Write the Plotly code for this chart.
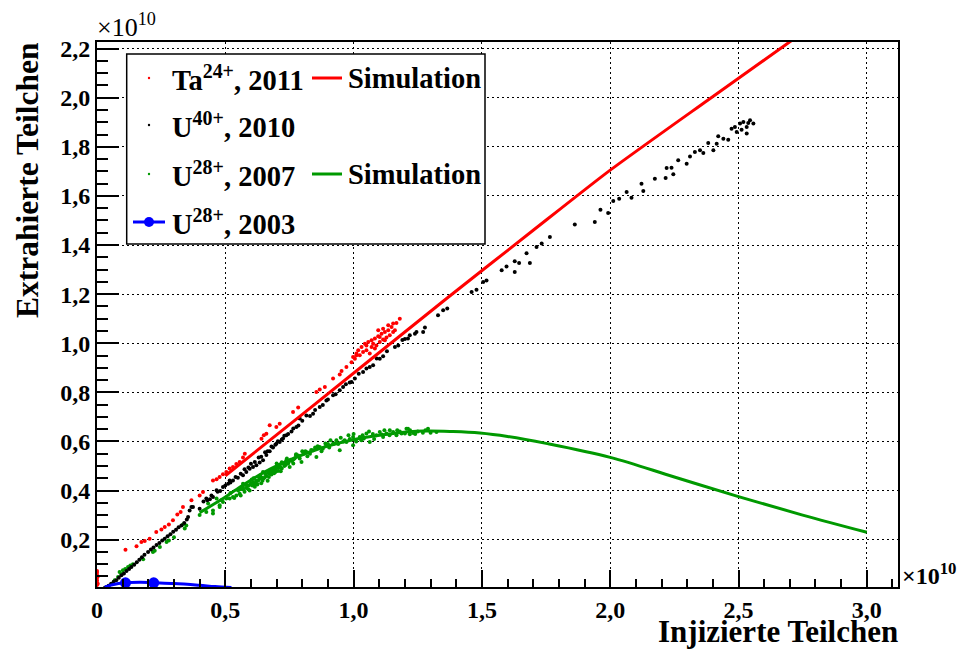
import plotly.graph_objects as go

# ---------------- data (units of 1e10 particles) ----------------
ta2011_x = [0.0, 0.0, 0.0, 0.0, 0.0, 0.0, 0.0, 0.003, 0.003,
            0.111, 0.154, 0.173, 0.186, 0.205, 0.231, 0.251, 0.264, 0.280, 0.296,
            0.313, 0.326, 0.335, 0.368, 0.400, 0.413, 0.452, 0.466, 0.478, 0.491,
            0.504, 0.517, 0.530, 0.543, 0.556, 0.569, 0.576, 0.641, 0.650, 0.660,
            0.673, 0.699, 0.712, 0.764, 0.784, 0.855, 0.868, 0.888, 0.920, 0.946,
            0.953, 0.972, 0.992, 0.998, 1.011,
            1.011, 1.024, 1.018, 1.031, 1.044, 1.050, 1.057, 1.063, 1.070, 1.070,
            1.083, 1.083, 1.089, 1.096, 1.102, 1.109, 1.115, 1.122, 1.128, 1.135,
            1.141, 1.148, 1.161, 1.167, 1.180, 1.037, 1.050, 1.076, 1.102, 1.122,
            1.154, 1.005, 1.096, 1.115, 1.135, 1.154]
ta2011_y = [0.015, 0.025, 0.035, 0.045, 0.055, 0.065, 0.072, 0.020, 0.050,
            0.159, 0.173, 0.190, 0.194, 0.204, 0.231, 0.241, 0.251, 0.262, 0.279,
            0.302, 0.312, 0.333, 0.360, 0.380, 0.394, 0.441, 0.446, 0.455, 0.466,
            0.475, 0.490, 0.496, 0.508, 0.516, 0.535, 0.550, 0.611, 0.625, 0.631,
            0.666, 0.659, 0.672, 0.720, 0.738, 0.801, 0.811, 0.822, 0.856, 0.873,
            0.887, 0.903, 0.923, 0.944, 0.951,
            0.958, 0.951, 0.971, 0.985, 0.998, 0.971, 1.005, 0.958, 1.012, 0.985,
            1.019, 0.978, 0.991, 1.028, 1.005, 1.039, 1.015, 1.046, 1.023, 1.053,
            1.032, 1.066, 1.053, 1.082, 1.100, 0.964, 0.991, 0.998, 1.025, 1.012,
            1.046, 0.937, 1.053, 1.059, 1.073, 1.080]

u40_2010_x = [0.030, 0.037, 0.045, 0.055, 0.065, 0.075, 0.085, 0.095, 0.105, 0.115,
              0.125, 0.134, 0.145, 0.155, 0.165, 0.175, 0.185, 0.199, 0.210, 0.220,
              0.232, 0.243, 0.254, 0.264, 0.275, 0.286, 0.297, 0.308, 0.318, 0.329,
              0.340, 0.350, 0.355, 0.361, 0.368, 0.374, 0.400, 0.415, 0.426, 0.446,
              0.452, 0.466, 0.491, 0.511, 0.517, 0.530, 0.549, 0.569, 0.582, 0.595,
              0.608, 0.621, 0.634, 0.647, 0.660, 0.673, 0.686, 0.699, 0.712, 0.725,
              0.738, 0.758, 0.777, 0.790, 0.816, 0.842, 0.868, 0.894, 0.920, 0.946,
              0.959, 0.992, 1.005, 1.037, 1.063, 1.076, 1.102, 1.115, 1.161, 1.174,
              1.212, 1.219, 1.239, 1.245, 1.271, 1.278, 1.329, 1.349, 1.365, 1.460,
              1.479, 1.505, 1.518, 1.577, 1.596, 1.628, 1.628, 1.645, 1.674, 1.687,
              1.713, 1.733, 1.765, 1.862, 1.940, 1.962, 1.992, 2.012, 2.035, 2.064,
              2.083, 2.122, 2.129, 2.174, 2.216, 2.220, 2.239, 2.246, 2.265, 2.298,
              2.311, 2.330, 2.350, 2.363, 2.382, 2.402, 2.415, 2.421, 2.441, 2.460,
              2.473, 2.486, 2.493, 2.506, 2.512, 2.519, 2.532, 2.538, 2.532, 2.558,
              2.545,
              0.430, 0.440, 0.470, 0.480, 0.500, 0.520, 0.540, 0.560, 0.575, 0.590,
              0.600, 0.615, 0.630, 0.640, 0.655, 0.665, 0.680, 0.695, 0.705, 0.720,
              0.730, 0.745, 0.765, 0.785, 0.800, 0.830, 0.850, 0.880, 0.900, 0.930,
              0.970, 0.985, 1.020, 1.050, 1.090, 1.130, 1.190, 1.200]
u40_2010_y = [0.003, 0.007, 0.012, 0.020, 0.028, 0.035, 0.045, 0.055, 0.062, 0.072,
              0.080, 0.088, 0.098, 0.108, 0.118, 0.128, 0.138, 0.150, 0.160, 0.168,
              0.178, 0.186, 0.196, 0.204, 0.214, 0.222, 0.232, 0.240, 0.250, 0.258,
              0.268, 0.282, 0.292, 0.319, 0.333, 0.333, 0.326, 0.355, 0.367, 0.380,
              0.374, 0.401, 0.414, 0.428, 0.441, 0.441, 0.452, 0.462, 0.475, 0.489,
              0.496, 0.503, 0.514, 0.523, 0.545, 0.560, 0.575, 0.591, 0.598, 0.612,
              0.625, 0.640, 0.659, 0.693, 0.706, 0.713, 0.740, 0.767, 0.788, 0.808,
              0.822, 0.842, 0.856, 0.883, 0.903, 0.910, 0.937, 0.947, 0.985, 0.991,
              1.019, 1.032, 1.039, 1.046, 1.046, 1.064, 1.114, 1.134, 1.141, 1.209,
              1.218, 1.249, 1.256, 1.297, 1.313, 1.290, 1.334, 1.327, 1.367, 1.327,
              1.392, 1.406, 1.433, 1.484, 1.494, 1.544, 1.530, 1.579, 1.589, 1.616,
              1.593, 1.650, 1.620, 1.670, 1.673, 1.714, 1.715, 1.688, 1.745, 1.731,
              1.761, 1.779, 1.786, 1.775, 1.816, 1.786, 1.813, 1.843, 1.833, 1.829,
              1.874, 1.881, 1.860, 1.895, 1.870, 1.901, 1.881, 1.897, 1.854, 1.895,
              1.908,
              0.360, 0.364, 0.395, 0.398, 0.420, 0.433, 0.455, 0.468, 0.487, 0.494,
              0.509, 0.516, 0.535, 0.538, 0.556, 0.560, 0.579, 0.586, 0.601, 0.608,
              0.623, 0.630, 0.653, 0.665, 0.684, 0.704, 0.728, 0.748, 0.771, 0.792,
              0.833, 0.840, 0.876, 0.897, 0.938, 0.967, 1.013, 1.017]

u28_2007_x = [0.069, 0.082, 0.088, 0.095, 0.101, 0.110, 0.121, 0.130, 0.140, 0.180,
              0.218, 0.225, 0.245, 0.271, 0.280, 0.300, 0.335, 0.342, 0.348, 0.400,
              0.426, 0.433, 0.452, 0.452, 0.466, 0.478, 0.478, 0.485, 0.491, 0.504,
              0.517, 0.530, 0.543, 0.556, 0.569, 0.569, 0.575, 0.582, 0.590, 0.595,
              0.600, 0.608, 0.615, 0.620, 0.625, 0.634, 0.640, 0.647, 0.650, 0.660,
              0.665, 0.673, 0.680, 0.690, 0.699, 0.705, 0.712, 0.720, 0.725, 0.730,
              0.738, 0.745, 0.751, 0.760, 0.770, 0.784, 0.790, 0.797, 0.805, 0.816,
              0.830, 0.842, 0.855, 0.868, 0.880, 0.894, 0.905, 0.920, 0.933, 0.946,
              0.960, 0.972, 0.985, 0.998, 0.998, 1.010, 1.024, 1.035, 1.050, 1.063,
              1.075, 1.089, 1.102, 1.115, 1.128, 1.141, 1.154, 1.167, 1.187, 1.200,
              1.206, 1.212, 1.219, 1.232, 1.250, 1.270, 1.290, 1.323,
              0.560, 0.585, 0.598, 0.612, 0.628, 0.642, 0.655, 0.668, 0.684, 0.695,
              0.708, 0.716, 0.735, 0.748, 0.765, 0.778, 0.603, 0.637, 0.672, 0.710,
              0.742, 0.776, 0.812, 0.850, 0.890, 0.925, 0.965, 1.040, 1.110, 1.180,
              0.520, 0.535, 0.550, 0.560, 0.570, 0.580, 0.590, 0.605, 0.610, 0.620,
              0.630, 0.645, 0.655, 0.670, 0.675, 0.685, 0.695, 0.700, 0.715, 0.720,
              0.735, 0.740, 0.755, 0.765, 0.775, 0.800, 0.820, 0.835, 0.860, 0.875,
              0.900, 0.910, 0.940, 0.950, 0.980, 1.000, 1.030, 1.060, 1.080, 1.120,
              1.140, 1.170, 1.220, 1.240, 1.280, 1.300]
u28_2007_y = [0.034, 0.048, 0.068, 0.060, 0.075, 0.080, 0.088, 0.095, 0.100, 0.120,
              0.150, 0.155, 0.170, 0.190, 0.196, 0.210, 0.262, 0.245, 0.258, 0.300,
              0.312, 0.347, 0.306, 0.319, 0.367, 0.333, 0.340, 0.360, 0.353, 0.367,
              0.367, 0.374, 0.380, 0.387, 0.414, 0.428, 0.395, 0.410, 0.420, 0.400,
              0.430, 0.435, 0.415, 0.440, 0.425, 0.448, 0.430, 0.475, 0.450, 0.460,
              0.440, 0.482, 0.465, 0.470, 0.496, 0.480, 0.505, 0.490, 0.510, 0.500,
              0.523, 0.510, 0.496, 0.520, 0.530, 0.543, 0.530, 0.516, 0.550, 0.557,
              0.550, 0.564, 0.537, 0.577, 0.570, 0.584, 0.575, 0.591, 0.605, 0.564,
              0.600, 0.598, 0.610, 0.618, 0.584, 0.600, 0.618, 0.625, 0.632, 0.598,
              0.630, 0.625, 0.638, 0.618, 0.632, 0.645, 0.638, 0.625, 0.632, 0.632,
              0.652, 0.652, 0.629, 0.634, 0.640, 0.635, 0.652, 0.638,
              0.405, 0.418, 0.425, 0.428, 0.440, 0.452, 0.455, 0.472, 0.478, 0.486,
              0.492, 0.478, 0.505, 0.518, 0.526, 0.540, 0.445, 0.458, 0.468, 0.498,
              0.520, 0.548, 0.560, 0.575, 0.592, 0.592, 0.605, 0.612, 0.628, 0.640,
              0.390, 0.370, 0.400, 0.380, 0.405, 0.425, 0.405, 0.420, 0.450, 0.430,
              0.455, 0.440, 0.470, 0.455, 0.470, 0.485, 0.475, 0.510, 0.495, 0.515,
              0.505, 0.530, 0.525, 0.510, 0.545, 0.560, 0.540, 0.565, 0.580, 0.560,
              0.590, 0.605, 0.590, 0.615, 0.625, 0.630, 0.605, 0.640, 0.610, 0.645,
              0.625, 0.645, 0.645, 0.630, 0.645, 0.635]

u28_2003_x = [0.111, 0.221]
u28_2003_y = [0.024, 0.024]
u28_2003_curve_x = [0.030, 0.060, 0.111, 0.170, 0.221, 0.300, 0.400, 0.460, 0.524]
u28_2003_curve_y = [0.006, 0.016, 0.024, 0.026, 0.024, 0.021, 0.014, 0.009, 0.005]

sim_ta_x = [0.50, 0.80, 1.36, 1.70, 2.00, 2.38, 2.75]
sim_ta_y = [0.46, 0.71, 1.18, 1.46, 1.705, 1.99, 2.265]

sim_u28_x = [0.40, 0.48, 0.537, 0.608, 0.70, 0.868, 0.998, 1.154, 1.271, 1.388,
             1.492, 1.60, 1.75, 2.00, 2.25, 2.50, 2.75, 3.00]
sim_u28_y = [0.31, 0.36, 0.40, 0.448, 0.50, 0.571, 0.607, 0.632, 0.642, 0.640,
             0.634, 0.620, 0.592, 0.535, 0.455, 0.375, 0.300, 0.230]

x_range = [0, 3.1216]
y_range = [0.007, 2.227]
x_major_step, x_minor_step = 0.5, 0.1
y_major_step, y_minor_step = 0.2, 0.05

RED = "#ff0000"
BLACK = "#000000"
GREEN = "#009900"
BLUE = "#0000ff"
FONT = "Liberation Serif"

W, H = 961, 651
L, R, T, B = 97, 63, 42, 64
PW, PH = W - L - R, H - T - B


def px(xp):
    return (xp - L) / PW


def py(yp):
    return (H - B - yp) / PH


fig = go.Figure()
fig.add_trace(go.Scatter(x=u28_2007_x, y=u28_2007_y, mode="markers",
                         marker=dict(color=GREEN, size=4), showlegend=False))
fig.add_trace(go.Scatter(x=u40_2010_x, y=u40_2010_y, mode="markers",
                         marker=dict(color=BLACK, size=4), showlegend=False))
fig.add_trace(go.Scatter(x=ta2011_x, y=ta2011_y, mode="markers",
                         marker=dict(color=RED, size=4), showlegend=False))
fig.add_trace(go.Scatter(x=sim_ta_x, y=sim_ta_y, mode="lines",
                         line=dict(color=RED, width=3, shape="spline", smoothing=0.6),
                         showlegend=False))
fig.add_trace(go.Scatter(x=sim_u28_x, y=sim_u28_y, mode="lines",
                         line=dict(color=GREEN, width=3, shape="spline"), showlegend=False))
fig.add_trace(go.Scatter(x=u28_2003_curve_x, y=u28_2003_curve_y, mode="lines",
                         line=dict(color=BLUE, width=3, shape="spline"), showlegend=False))
fig.add_trace(go.Scatter(x=u28_2003_x, y=u28_2003_y, mode="markers",
                         marker=dict(color=BLUE, size=11), showlegend=False))

axis_common = dict(
    showline=True, linecolor="black", linewidth=2, mirror=True,
    ticks="inside", tickcolor="black", tickwidth=2,
    showgrid=True, gridcolor="black", gridwidth=1, griddash="2px,3px",
    zeroline=False, tickmode="linear", tick0=0, tickformat=".1f",
    tickfont=dict(family=FONT, size=24, color="black", weight="bold"),
)
fig.update_xaxes(range=x_range, dtick=x_major_step, ticklen=17, labelalias={"0,0": "0"},
                 minor=dict(tickmode="linear", tick0=0, dtick=x_minor_step, ticklen=8,
                            tickwidth=2, tickcolor="black", ticks="inside", showgrid=False),
                 **axis_common)
fig.update_yaxes(range=y_range, dtick=y_major_step, ticklen=22,
                 minor=dict(tickmode="linear", tick0=0, dtick=y_minor_step, ticklen=11,
                            tickwidth=2, tickcolor="black", ticks="inside", showgrid=False),
                 **axis_common)

annotations = [
    dict(text="Injizierte Teilchen", xref="paper", yref="paper", x=px(900), y=py(631),
         xanchor="right", yanchor="middle", showarrow=False,
         font=dict(family=FONT, size=31, color="black", weight="bold")),
    dict(text="Extrahierte Teilchen", xref="paper", yref="paper", x=px(27), y=py(40),
         xanchor="center", yanchor="top", textangle=-90, showarrow=False,
         font=dict(family=FONT, size=31.5, color="black", weight="bold")),
    dict(text="×10<sup>10</sup>", xref="paper", yref="paper", x=px(95), y=py(25),
         xanchor="left", yanchor="middle", showarrow=False,
         font=dict(family=FONT, size=26, color="black")),
    dict(text="×10<sup>10</sup>", xref="paper", yref="paper", x=px(900), y=py(574),
         xanchor="left", yanchor="middle", showarrow=False,
         font=dict(family=FONT, size=24, color="black", weight="bold")),
]

leg_font = dict(family=FONT, size=28.5, color="black", weight="bold")
rows = [78, 125, 174, 222]
labels = ["Ta<sup>24+</sup>, 2011", "U<sup>40+</sup>, 2010", "U<sup>28+</sup>, 2007",
          "U<sup>28+</sup>, 2003"]
for yy, lab in zip(rows, labels):
    annotations.append(dict(text=lab, xref="paper", yref="paper", x=px(170), y=py(yy),
                            xanchor="left", yanchor="middle", showarrow=False, font=leg_font))
for yy in (rows[0], rows[2]):
    annotations.append(dict(text="Simulation", xref="paper", yref="paper", x=px(346), y=py(yy),
                            xanchor="left", yanchor="middle", showarrow=False, font=leg_font))

shapes = [dict(type="rect", xref="paper", yref="paper", x0=px(126.7), x1=px(485),
               y0=py(244), y1=py(54), line=dict(color="black", width=1.5),
               fillcolor="white", layer="above")]
for yy, col in zip(rows[:3], [RED, BLACK, GREEN]):
    shapes.append(dict(type="circle", xref="paper", yref="paper",
                       x0=px(147.8), x1=px(150.2), y0=py(yy + 1.2), y1=py(yy - 1.2),
                       fillcolor=col, line=dict(color=col, width=0), layer="above"))
shapes.append(dict(type="line", xref="paper", yref="paper", x0=px(133), x1=px(165),
                   y0=py(rows[3]), y1=py(rows[3]), line=dict(color=BLUE, width=3), layer="above"))
shapes.append(dict(type="circle", xref="paper", yref="paper", x0=px(144), x1=px(154),
                   y0=py(rows[3] + 5), y1=py(rows[3] - 5), fillcolor=BLUE,
                   line=dict(color=BLUE, width=0), layer="above"))
for yy, col in zip((rows[0], rows[2]), (RED, GREEN)):
    shapes.append(dict(type="line", xref="paper", yref="paper", x0=px(312), x1=px(342),
                       y0=py(yy), y1=py(yy), line=dict(color=col, width=3), layer="above"))

fig.update_layout(
    width=W, height=H, margin=dict(l=L, r=R, t=T, b=B),
    paper_bgcolor="white", plot_bgcolor="white", separators=",.",
    showlegend=False, annotations=annotations, shapes=shapes,
    font=dict(family=FONT, color="black"),
)

fig.write_html("out.html")
